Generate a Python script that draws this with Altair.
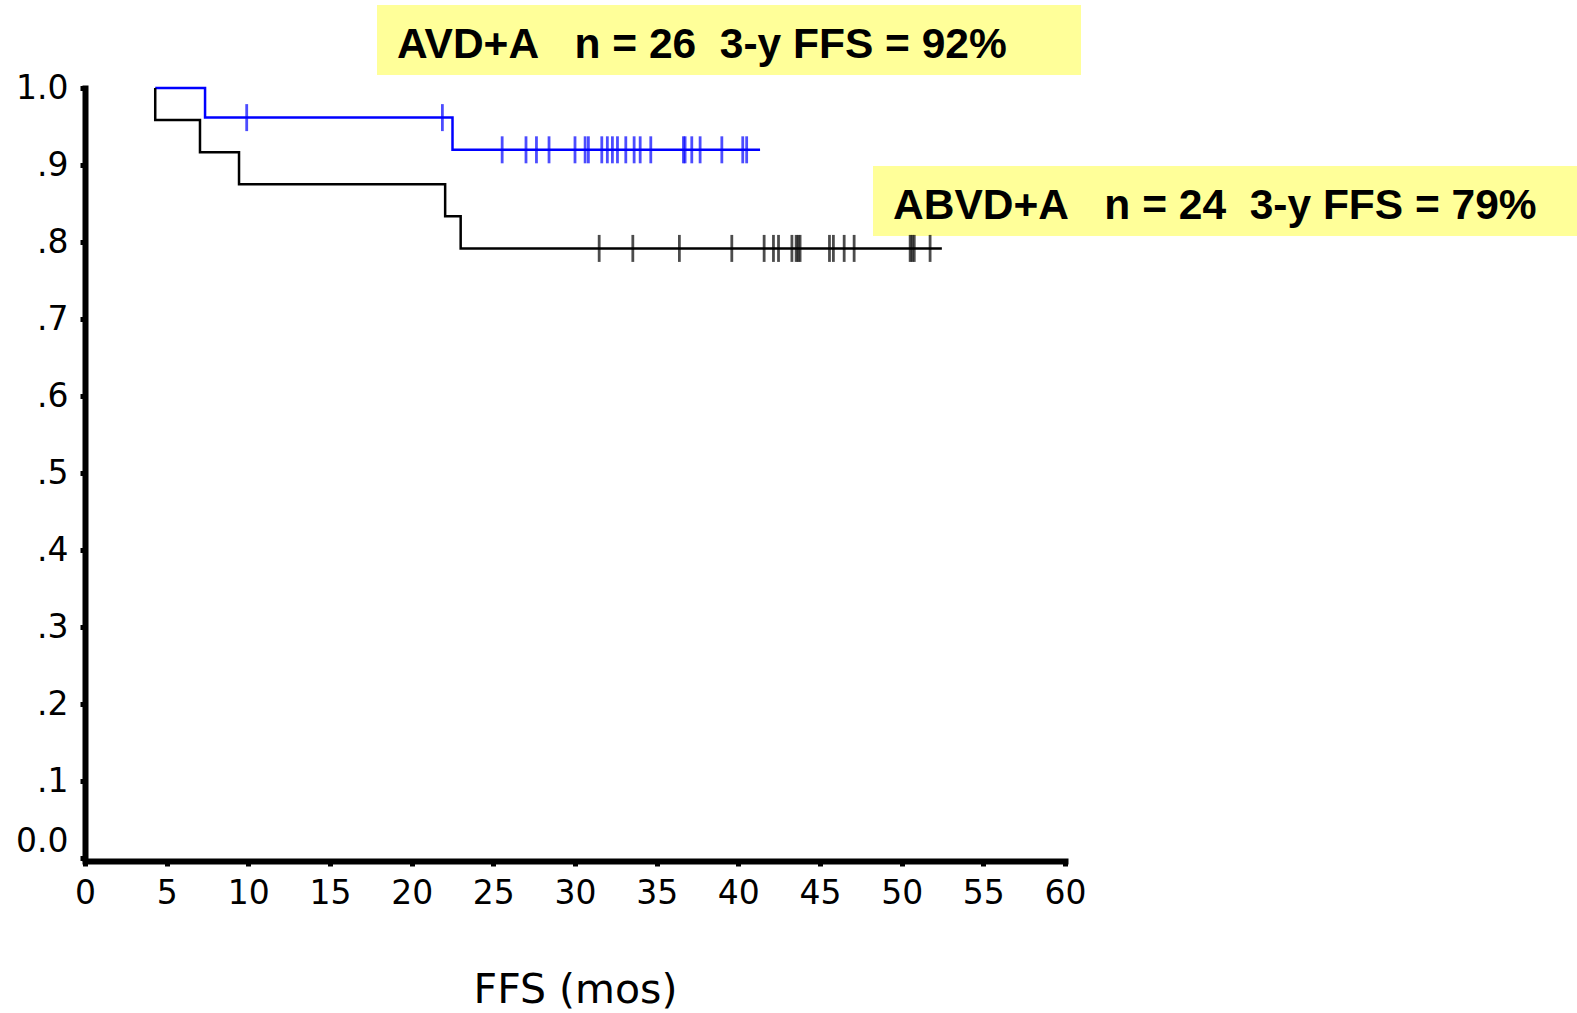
import altair as alt
import pandas as pd

# Failure-free survival follow-up (months) per arm
arms = ["AVD+A", "ABVD+A"]
arm_colors = ["#0000FF", "#000000"]
start_time = 4.3

avd_events = [7.35, 22.5]
avd_censored = [9.9, 21.88, 25.54, 27.0, 27.64, 28.41, 30.0, 30.62, 30.82,
                31.64, 31.98, 32.29, 32.6, 33.11, 33.62, 33.99, 34.64, 36.64,
                36.74, 37.15, 37.66, 38.99, 40.27, 40.51]
avd_last_followup = 41.33

abvd_events = [4.3, 7.04, 9.43, 22.05, 23.0]
abvd_censored = [31.48, 33.54, 36.39, 39.6, 41.58, 42.15, 42.46, 43.28, 43.54,
                 43.66, 43.78, 45.58, 45.82, 46.48, 47.09, 50.52, 50.64, 50.77,
                 51.74]
abvd_last_followup = 52.46

x_ticks = list(range(0, 61, 5))
y_ticks = [round(i / 10, 1) for i in range(0, 11)]


def kaplan_meier(arm, events, censored, end):
    """Step points of the Kaplan-Meier estimate plus censor marks."""
    n = len(events) + len(censored)
    obs = sorted([(t, 0) for t in events] + [(t, 1) for t in censored])
    surv, at_risk = 1.0, n
    steps = [(start_time, surv)]
    marks = []
    for t, is_censored in obs:
        if is_censored:
            marks.append((t, surv))
        else:
            surv *= (at_risk - 1) / at_risk
            steps.append((t, surv))
        at_risk -= 1
    steps.append((end, surv))
    curve = pd.DataFrame({"arm": arm, "t": [s[0] for s in steps],
                          "s": [s[1] for s in steps],
                          "i": range(len(steps))})
    cens = pd.DataFrame({"arm": arm, "t": [m[0] for m in marks],
                         "s": [m[1] for m in marks]})
    ffs36 = [s for tt, s in steps if tt <= 36][-1]
    return curve, cens, n, ffs36


avd_curve, avd_cens, avd_n, avd_ffs = kaplan_meier(arms[0], avd_events, avd_censored, avd_last_followup)
abvd_curve, abvd_cens, abvd_n, abvd_ffs = kaplan_meier(arms[1], abvd_events, abvd_censored, abvd_last_followup)

curves = pd.concat([avd_curve, abvd_curve], ignore_index=True)
censors = pd.concat([avd_cens, abvd_cens], ignore_index=True)

x_scale = alt.Scale(domain=[0, 60], nice=False, zero=False)
y_scale = alt.Scale(domain=[0, 1], nice=False)
color = alt.Color("arm:N", scale=alt.Scale(domain=arms, range=arm_colors), legend=None)

x_enc = alt.X("t:Q", scale=x_scale,
              axis=alt.Axis(values=x_ticks, title="FFS (mos)", titlePadding=60,
                            titleFontSize=41, titleFontWeight="normal",
                            titleFont="DejaVu Sans", titleColor="black",
                            labelPadding=11, labelFlush=False, offset=3))
y_enc = alt.Y("s:Q", scale=y_scale,
              axis=alt.Axis(values=y_ticks, title=None, labelPadding=12,
                            labelExpr="datum.value == 0 ? '0.0' : datum.value == 1 ? '1.0' : slice(format(datum.value, '.1f'), 1)",
                            labelBaseline={"condition": {"test": "datum.value == 0", "value": "bottom"},
                                           "value": "middle"}))

lines = alt.Chart(curves).mark_line(interpolate="step-after", strokeWidth=2.5).encode(
    x=x_enc, y=y_enc, color=color, detail="arm:N", order="i:Q")

ticks = alt.Chart(censors).mark_tick(orient="vertical", size=27, thickness=2.8).encode(
    x=alt.X("t:Q", scale=x_scale), y=alt.Y("s:Q", scale=y_scale), color=color)

# non-breaking spaces keep the wide gaps inside the SVG text
gap3 = "\u00a0\u00a0\u00a0"
gap2 = "\u00a0\u00a0"
labels = [
    f"{arms[0]}{gap3}n = {avd_n}{gap2}3-y FFS = {round(avd_ffs * 100)}%",
    f"{arms[1]}{gap3}n = {abvd_n}{gap2}3-y FFS = {round(abvd_ffs * 100)}%",
]

one = alt.Data(values=[{}])


def label_box(text, left, top):
    box = alt.Chart(one).mark_rect(color="#FFFF99").encode(
        x=alt.value(left), x2=alt.value(left + 704),
        y=alt.value(top), y2=alt.value(top + 70))
    txt = alt.Chart(one).mark_text(font="Liberation Sans", fontWeight="bold",
                                   fontSize=42.5, align="left", baseline="alphabetic",
                                   color="black").encode(
        x=alt.value(left + 20), y=alt.value(top + 53), text=alt.value(text))
    return box + txt


chart = (label_box(labels[0], 292, -83) + label_box(labels[1], 788, 78) + lines + ticks).properties(
    width=980, height=770,
    autosize=alt.AutoSizeParams(type="none"),
    padding={"left": 85, "top": 88, "right": 512, "bottom": 155},
    background="white",
).configure_view(stroke=None).configure_axis(
    grid=False, domainColor="black", domainWidth=6, domainCap="square",
    tickColor="black", tickWidth=5, tickSize=5,
    labelFont="DejaVu Sans", labelFontSize=33, labelColor="black",
)

chart.save("out.html", embed_options={"renderer": "svg", "actions": False})
